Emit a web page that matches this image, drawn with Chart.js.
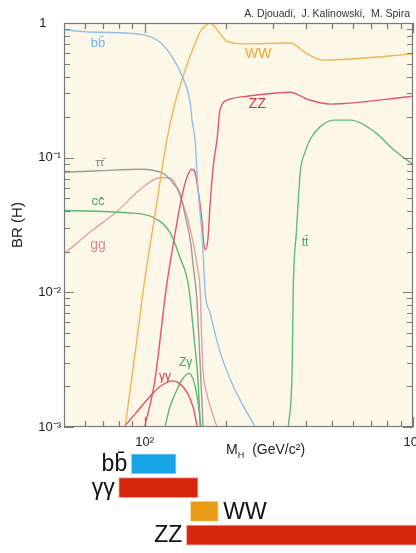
<!DOCTYPE html>
<html>
<head>
<meta charset="utf-8">
<script src="https://cdn.jsdelivr.net/npm/chart.js@4/dist/chart.umd.min.js"></script>
<style>
  html, body { margin: 0; padding: 0; background: #fff; overflow: hidden; width: 416px; height: 553px; }
  #wrap { position: relative; width: 416px; height: 553px; overflow: hidden; }
  #main { position: absolute; left: 0; top: 0; }
  #bars { position: absolute; left: 0; top: 450px; }
</style>
</head>
<body>
<div id="wrap">
  <canvas id="main" width="440" height="460" style="width:440px;height:460px"></canvas>
  <canvas id="bars" width="440" height="103" style="width:440px;height:103px"></canvas>
</div>
<script>
// Higgs mass (GeV) and branching ratios
const bbMass = [50, 60, 74, 98, 114, 128, 138, 148, 150, 154, 158, 164, 168, 175, 191, 214, 258];
const bbBR   = [0.89, 0.86, 0.85, 0.82, 0.72, 0.54, 0.40, 0.25, 0.19, 0.137, 0.058, 0.025, 0.010, 0.0071, 0.0036, 0.0020, 0.001];

const wwMass = [84.5, 92, 100, 109, 121, 130, 139, 151, 161, 168, 175, 183, 191, 203, 233, 349, 403, 463, 583, 1000];
const wwBR   = [0.001, 0.0035, 0.0124, 0.037, 0.137, 0.26, 0.40, 0.64, 0.86, 0.95, 1.0, 0.93, 0.83, 0.73, 0.70, 0.71, 0.59, 0.53, 0.54, 0.59];

const zzMass = [100, 109, 120, 125.4, 130, 134.4, 140, 145, 150, 154, 158, 163.6, 166, 169, 172, 175, 180, 186, 191, 208, 241, 349, 403, 491, 1000];
const zzBR   = [0.001, 0.0022, 0.0104, 0.0184, 0.028, 0.041, 0.060, 0.075, 0.082, 0.078, 0.058, 0.033, 0.0226, 0.0208, 0.025, 0.043, 0.086, 0.137, 0.229, 0.272, 0.286, 0.306, 0.272, 0.25, 0.286];

const tauMass = [50, 68, 96, 109, 119, 128, 135, 142, 148, 152, 156, 160, 165];
const tauBR   = [0.078, 0.080, 0.082, 0.080, 0.075, 0.064, 0.055, 0.036, 0.024, 0.015, 0.0095, 0.0037, 0.001];

const ccMass = [50, 86, 107.5, 124, 135, 146, 153, 158, 161];
const ccBR   = [0.0405, 0.039, 0.036, 0.028, 0.0184, 0.0108, 0.0044, 0.0022, 0.001];

const ggMass = [50, 64, 79, 96, 114, 124, 138, 148, 157, 161, 163, 165, 170, 178, 186];
const ggBR   = [0.0193, 0.029, 0.040, 0.058, 0.071, 0.071, 0.047, 0.029, 0.0156, 0.010, 0.0045, 0.0026, 0.0018, 0.0013, 0.001];

const ttMass = [343, 354.6, 357.6, 368, 380, 396, 414, 451, 504, 583, 723, 845, 1000];
const ttBR   = [0.001, 0.0028, 0.010, 0.029, 0.078, 0.11, 0.137, 0.17, 0.19, 0.19, 0.154, 0.115, 0.089];

const aaMass = [83.7, 93.6, 105, 114, 127.6, 135, 144, 151.5, 157];
const aaBR   = [0.001, 0.0013, 0.0017, 0.0020, 0.0022, 0.0021, 0.0018, 0.0014, 0.001];

const zaMass = [119, 124, 132, 139, 146, 151, 155, 159, 162];
const zaBR   = [0.001, 0.0014, 0.0019, 0.0023, 0.0025, 0.0023, 0.0019, 0.0014, 0.001];

// axis ticks
const xMajor = [100, 1000];
const xTickText = ['10²', '10³'];
const xMinor = [60, 70, 80, 90, 200, 300, 400, 500, 600, 700, 800, 900];
const yMajor = [0.001, 0.01, 0.1, 1];
const yTickText = ['10⁻³', '10⁻²', '10⁻¹', '1\u2007\u2007'];
const yMinor = [];
[0.001, 0.01, 0.1].forEach(d => { for (let k = 2; k <= 9; k++) yMinor.push(d * k); });

// discovery channels: mass ranges (GeV)
const channelNames = ['bb̄', 'γγ', 'WW', 'ZZ'];
const channelRanges = [[89, 131], [80, 158], [148, 188], [143, 1100]];

const FONT = '"Liberation Sans", Arial, sans-serif';

const curves = [
  { name: 'bb̄', m: bbMass, br: bbBR, color: '#8dc3ea' },
  { name: 'WW', m: wwMass, br: wwBR, color: '#f3b64e' },
  { name: 'ZZ', m: zzMass, br: zzBR, color: '#e2566a' },
  { name: 'ττ̄', m: tauMass, br: tauBR, color: '#9c9c9c' },
  { name: 'cc̄', m: ccMass, br: ccBR, color: '#5bb872' },
  { name: 'gg', m: ggMass, br: ggBR, color: '#e3a2a8' },
  { name: 'tt̄', m: ttMass, br: ttBR, color: '#62bd78' },
  { name: 'γγ', m: aaMass, br: aaBR, color: '#e0525f' },
  { name: 'Zγ', m: zaMass, br: zaBR, color: '#5cb874' }
];

// where each curve name sits, in (mass, BR)
const curveLabels = [
  { text: 'bb̄', m: 67, br: 0.70, color: '#6db3e6', size: 13 },
  { text: 'WW', m: 265, br: 0.59, color: '#f0a830', size: 14 },
  { text: 'ZZ', m: 263, br: 0.25, color: '#d83048', size: 14 },
  { text: 'ττ̄', m: 68, br: 0.092, color: '#777', size: 11 },
  { text: 'cc̄', m: 67, br: 0.047, color: '#3aa858', size: 13 },
  { text: 'gg', m: 67, br: 0.0226, color: '#d88890', size: 14 },
  { text: 'tt̄', m: 396, br: 0.0234, color: '#3aa858', size: 12 },
  { text: 'γγ', m: 119, br: 0.00235, color: '#d83048', size: 12 },
  { text: 'Zγ', m: 142, br: 0.0030, color: '#3aa858', size: 12 }
];

const framePlugin = {
  id: 'frame',
  beforeDatasetsDraw(chart) {
    const { ctx, chartArea: a } = chart;
    ctx.save();
    ctx.fillStyle = '#fdf7e8';
    ctx.fillRect(a.left, a.top, a.right - a.left, a.bottom - a.top);
    ctx.restore();
  },
  afterDatasetsDraw(chart) {
    const { ctx, chartArea: a, scales: { x, y } } = chart;
    ctx.save();
    ctx.strokeStyle = '#7a7a7a';
    ctx.lineWidth = 1.2;
    ctx.strokeRect(a.left + 0.5, a.top + 0.5, a.right - a.left - 1, a.bottom - a.top - 1);

    ctx.beginPath();
    xMinor.concat(xMajor).forEach(v => {
      const px = Math.round(x.getPixelForValue(v)) + 0.5;
      const len = xMajor.includes(v) ? 10 : 6;
      ctx.moveTo(px, a.bottom); ctx.lineTo(px, a.bottom - len);
      ctx.moveTo(px, a.top); ctx.lineTo(px, a.top + len);
    });
    yMinor.concat(yMajor).forEach(v => {
      const py = Math.round(y.getPixelForValue(v)) + 0.5;
      const len = yMajor.includes(v) ? 10 : 6;
      ctx.moveTo(a.left, py); ctx.lineTo(a.left + len, py);
      ctx.moveTo(a.right, py); ctx.lineTo(a.right - len, py);
    });
    ctx.stroke();

    // curve names
    ctx.textAlign = 'center';
    ctx.textBaseline = 'middle';
    curveLabels.forEach(l => {
      ctx.font = l.size + 'px ' + FONT;
      ctx.fillStyle = l.color;
      ctx.fillText(l.text, x.getPixelForValue(l.m), y.getPixelForValue(l.br));
    });

    // credit line
    ctx.font = '10.5px ' + FONT;
    ctx.fillStyle = '#333';
    ctx.textAlign = 'right';
    ctx.fillText('A. Djouadi,  J. Kalinowski,  M. Spira', a.right - 3, 14);

    // x axis title with subscript
    ctx.textAlign = 'left';
    ctx.textBaseline = 'alphabetic';
    ctx.fillStyle = '#222';
    let tx = 226;
    const ty = a.bottom + 27;
    ctx.font = '14px ' + FONT;
    ctx.fillText('M', tx, ty);
    tx += ctx.measureText('M').width;
    ctx.font = '9px ' + FONT;
    ctx.fillText('H', tx, ty + 4);
    tx += ctx.measureText('H').width + 8;
    ctx.font = '14px ' + FONT;
    ctx.fillText('(GeV/c²)', tx, ty);
    ctx.restore();
  }
};

new Chart(document.getElementById('main'), {
  type: 'line',
  data: {
    datasets: curves.map(c => ({
      label: c.name,
      data: c.m.map((m, i) => ({ x: m, y: c.br[i] })),
      borderColor: c.color,
      borderWidth: 1.4,
      pointRadius: 0,
      cubicInterpolationMode: 'monotone',
      fill: false
    }))
  },
  options: {
    responsive: false,
    animation: false,
    layout: { padding: { top: 23, right: 27, left: 0, bottom: 0 } },
    plugins: { legend: { display: false }, tooltip: { enabled: false } },
    scales: {
      x: {
        type: 'logarithmic', min: 50, max: 1000,
        grid: { display: false, drawTicks: false }, border: { display: false },
        afterBuildTicks: s => { s.ticks = xMajor.map(v => ({ value: v })); },
        ticks: {
          callback: v => xTickText[xMajor.indexOf(v)],
          font: { size: 13, family: FONT }, color: '#222', padding: 8,
          maxRotation: 0, autoSkip: false
        },
        afterFit: s => { s.height = 33; s.paddingLeft = 0; s.paddingRight = 0; }
      },
      y: {
        type: 'logarithmic', min: 0.001, max: 1,
        grid: { display: false, drawTicks: false }, border: { display: false },
        afterBuildTicks: s => { s.ticks = yMajor.map(v => ({ value: v })); },
        ticks: {
          callback: v => yTickText[yMajor.indexOf(v)],
          font: { size: 13, family: FONT }, color: '#222', padding: 3, autoSkip: false
        },
        title: { display: true, text: 'BR (H)', font: { size: 15, family: FONT }, color: '#222', padding: { top: 9, bottom: 0 } },
        afterFit: s => { s.width = 64; s.paddingTop = 0; s.paddingBottom = 0; }
      }
    }
  },
  plugins: [framePlugin]
});

const barLabelPlugin = {
  id: 'barLabels',
  afterDatasetsDraw(chart) {
    const { ctx } = chart;
    const side = ['left', 'left', 'right', 'left'];
    ctx.save();
    ctx.font = '23px ' + FONT;
    ctx.fillStyle = '#111';
    ctx.textBaseline = 'middle';
    chart.getDatasetMeta(0).data.forEach((bar, i) => {
      const start = Math.min(bar.x, bar.base), end = Math.max(bar.x, bar.base);
      if (side[i] === 'left') {
        ctx.textAlign = 'right';
        ctx.fillText(channelNames[i], start - 4, bar.y + 1);
      } else {
        ctx.textAlign = 'left';
        ctx.fillText(channelNames[i], end + 5, bar.y + 1);
      }
    });
    ctx.restore();
  }
};

new Chart(document.getElementById('bars'), {
  type: 'bar',
  data: {
    labels: channelNames,
    datasets: [{
      data: channelRanges,
      backgroundColor: ['#17a3e6', '#d6260c', '#e99c14', '#d6260c'],
      borderColor: ['#a8dcf5', '#f0a0a0', '#f5d090', '#f0a0a0'],
      borderWidth: 1,
      borderSkipped: false,
      barThickness: 20,
      clip: false
    }]
  },
  options: {
    indexAxis: 'y',
    responsive: false,
    animation: false,
    layout: { padding: { left: 64, right: 27, top: 2, bottom: 6 } },
    plugins: { legend: { display: false }, tooltip: { enabled: false } },
    scales: {
      x: { type: 'logarithmic', min: 50, max: 1000, display: false },
      y: { display: false }
    }
  },
  plugins: [barLabelPlugin]
});
</script>
</body>
</html>
